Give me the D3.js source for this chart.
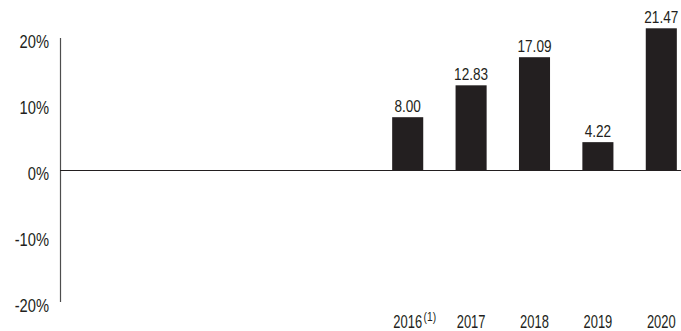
<!DOCTYPE html>
<html>
<head>
<meta charset="utf-8">
<script src="https://cdn.jsdelivr.net/npm/d3@7"></script>
<style>
  html, body { margin: 0; padding: 0; background: #fff; }
  svg { display: block; }
  text { font-family: "Liberation Sans", Arial, sans-serif; fill: #231f20; }
</style>
</head>
<body>
<svg id="chart" width="681" height="331"></svg>
<script>
// Annual returns by year
const years = ["2016", "2017", "2018", "2019", "2020"];
const yearNotes = ["(1)", "", "", "", ""];
const returns = [8.00, 12.83, 17.09, 4.22, 21.47];
const tickValues = [20, 10, 0, -10, -20];

const width = 681, height = 331;
const svg = d3.select("#chart");

const y = d3.scaleLinear().domain([-20, 20]).range([302, 38]);
const x = d3.scaleBand().domain(years).range([376, 693])
  .paddingInner(0.51).paddingOuter(0.255);

// condensed label: text squeezed horizontally around its anchor point
function label(parent, px, py, str, size, sx, anchor) {
  const g = parent.append("g").attr("transform", `translate(${px},${py})`);
  const t = g.append("text")
    .attr("transform", `scale(${sx},1)`)
    .attr("text-anchor", anchor)
    .attr("font-size", size)
    .text(str);
  return t.node().getComputedTextLength() * sx;
}

// vertical axis line
svg.append("line")
  .attr("x1", 60.5).attr("x2", 60.5)
  .attr("y1", y(20)).attr("y2", y(-20))
  .attr("stroke", "#4d4d4d").attr("stroke-width", 1.2);

// tick labels
tickValues.forEach(d => label(svg, 49, y(d) + 10, d + "%", 17.5, 0.84, "end"));

// bars
svg.selectAll("rect.bar").data(returns).join("rect")
  .attr("class", "bar")
  .attr("x", (d, i) => x(years[i]))
  .attr("width", x.bandwidth())
  .attr("y", d => y(Math.max(0, d)))
  .attr("height", d => Math.abs(y(d) - y(0)))
  .attr("fill", "#231f20");

// zero line
svg.append("line")
  .attr("x1", 60).attr("x2", width)
  .attr("y1", y(0) + 0.5).attr("y2", y(0) + 0.5)
  .attr("stroke", "#231f20").attr("stroke-width", 1.2);

// value labels
returns.forEach((d, i) => {
  label(svg, x(years[i]) + x.bandwidth() / 2, y(d) - 5, d.toFixed(2), 17, 0.8, "middle");
});

// year labels with optional footnote marker
years.forEach((yr, i) => {
  const cx = x(yr) + x.bandwidth() / 2;
  const w = label(svg, cx, 328, yr, 17.5, 0.74, "middle");
  if (yearNotes[i]) {
    label(svg, cx + w / 2 + 1.5, 321, yearNotes[i], 12.5, 0.82, "start");
  }
});
</script>
</body>
</html>
